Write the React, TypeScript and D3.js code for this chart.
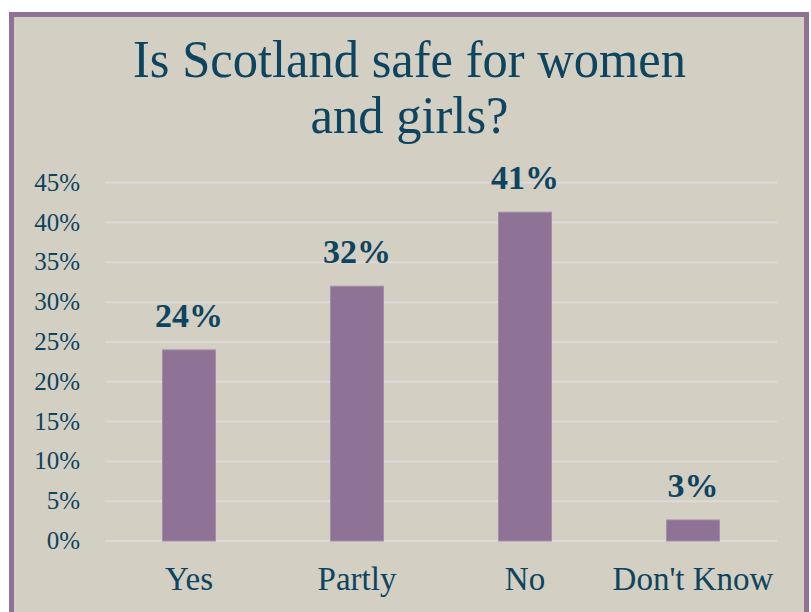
import React from "react";
import * as d3 from "d3";

const categories = ["Yes", "Partly", "No", "Don't Know"];
const values = [24, 32, 41.3, 2.64];
const valueLabels = ["24%", "32%", "41%", "3%"];
const yTicks = [0, 5, 10, 15, 20, 25, 30, 35, 40, 45];
const titleLines = ["Is Scotland safe for women", "and girls?"];

const W = 811;
const H = 612;
const TEXT = "#0d4460";
const BG = "#d3cfc3";
const BORDER = "#8e7396";
const BAR = "#8e7396";
const GRID = "#dddad7";
const FONT = "'Liberation Serif', 'Times New Roman', serif";

export default function App() {
  const x = d3
    .scaleBand<string>()
    .domain(categories)
    .range([105, 777])
    .paddingInner(0.685)
    .paddingOuter(0.3425);
  const y = d3.scaleLinear().domain([0, 45]).range([541, 182.7]);

  return (
    <svg
      width={W}
      height={H}
      style={{ position: "absolute", left: 0, top: 0, background: "#ffffff" }}
    >
      <rect x={11.5} y={14.5} width={795} height={640} fill={BG} stroke={BORDER} strokeWidth={5} />
      <text
        x={409.5}
        y={76.7}
        textAnchor="middle"
        fontFamily={FONT}
        fontSize={52}
        fill={TEXT}
        textLength={553}
        lengthAdjust="spacingAndGlyphs"
      >
        {titleLines[0]}
      </text>
      <text
        x={409.5}
        y={133}
        textAnchor="middle"
        fontFamily={FONT}
        fontSize={52}
        fill={TEXT}
        textLength={198}
        lengthAdjust="spacingAndGlyphs"
      >
        {titleLines[1]}
      </text>
      {yTicks.map((t) => (
        <g key={t}>
          <line x1={105} x2={777} y1={y(t)} y2={y(t)} stroke={GRID} strokeWidth={2} />
          <text
            x={80}
            y={y(t)}
            dy="0.32em"
            textAnchor="end"
            fontFamily={FONT}
            fontSize={25}
            fill={TEXT}
          >
            {`${t}%`}
          </text>
        </g>
      ))}
      {categories.map((c, i) => {
        const bx = x(c)!;
        const bw = x.bandwidth();
        const top = y(values[i]);
        return (
          <g key={c}>
            <rect
              x={bx}
              y={top}
              width={bw}
              height={y(0) - top}
              fill={BAR}
              stroke="#a28fa8"
              strokeWidth={1}
            />
            <text
              x={bx + bw / 2}
              y={top - 23}
              textAnchor="middle"
              fontFamily={FONT}
              fontWeight="bold"
              fontSize={34}
              fill={TEXT}
            >
              {valueLabels[i]}
            </text>
            <text
              x={bx + bw / 2}
              y={590}
              textAnchor="middle"
              fontFamily={FONT}
              fontSize={33}
              fill={TEXT}
            >
              {c}
            </text>
          </g>
        );
      })}
    </svg>
  );
}
